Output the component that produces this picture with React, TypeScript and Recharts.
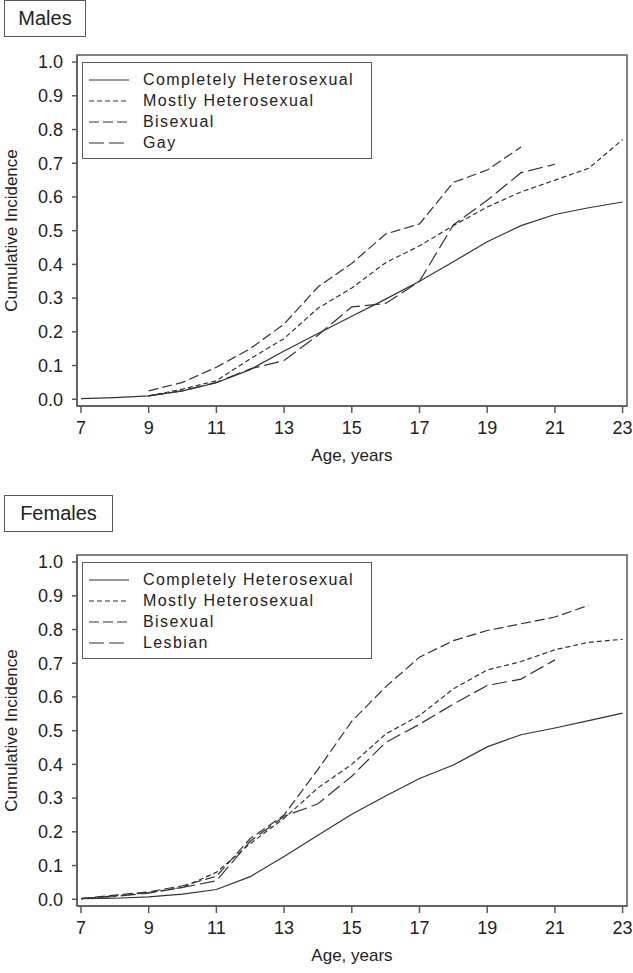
import { LineChart, Line, XAxis, YAxis, ReferenceArea, Legend } from "recharts";

const ages = [7, 8, 9, 10, 11, 12, 13, 14, 15, 16, 17, 18, 19, 20, 21, 22, 23];
const ageTicks = [7, 9, 11, 13, 15, 17, 19, 21, 23];
const incidenceTicks = [0, 0.1, 0.2, 0.3, 0.4, 0.5, 0.6, 0.7, 0.8, 0.9, 1.0];

const maleNames = ["Completely Heterosexual", "Mostly Heterosexual", "Bisexual", "Gay"];
const maleCompletely = [0.002, 0.005, 0.01, 0.025, 0.049, 0.088, 0.143, 0.195, 0.246, 0.297, 0.35, 0.408, 0.467, 0.515, 0.548, 0.568, 0.585];
const maleMostly = [null, null, 0.01, 0.03, 0.055, 0.12, 0.18, 0.27, 0.33, 0.405, 0.455, 0.515, 0.57, 0.615, 0.65, 0.685, 0.77];
const maleBisexual = [null, null, 0.025, 0.05, 0.095, 0.15, 0.223, 0.333, 0.403, 0.49, 0.52, 0.643, 0.68, 0.748, null, null, null];
const maleGay = [null, null, 0.01, 0.025, 0.05, 0.09, 0.115, 0.19, 0.274, 0.284, 0.35, 0.517, 0.59, 0.672, 0.697, null, null];

const femaleNames = ["Completely Heterosexual", "Mostly Heterosexual", "Bisexual", "Lesbian"];
const femaleCompletely = [0.002, 0.003, 0.007, 0.015, 0.029, 0.067, 0.127, 0.19, 0.252, 0.306, 0.358, 0.398, 0.452, 0.488, 0.508, 0.53, 0.552];
const femaleMostly = [0.002, 0.01, 0.02, 0.035, 0.08, 0.165, 0.24, 0.33, 0.4, 0.49, 0.545, 0.624, 0.68, 0.705, 0.74, 0.762, 0.771];
const femaleBisexual = [0.002, 0.012, 0.022, 0.04, 0.068, 0.18, 0.25, 0.385, 0.528, 0.63, 0.718, 0.767, 0.797, 0.817, 0.837, 0.872, null];
const femaleLesbian = [0.002, 0.008, 0.018, 0.035, 0.055, 0.172, 0.246, 0.283, 0.365, 0.465, 0.519, 0.579, 0.634, 0.653, 0.71, null, null];

const FONT = '"Liberation Sans", Arial, sans-serif';
const INK = "#333";
const FRAME = "#5a5a5a";
const dashes = [undefined, "5 3", "10 4", "15 5"];

type Val = number | null;

function buildRows(series: Val[][]) {
  return ages.map((age, i) => {
    const row: Record<string, Val> = { age };
    series.forEach((s, k) => {
      row["s" + k] = s[i];
    });
    return row;
  });
}

function LegendBox({ names }: { names: string[] }) {
  return (
    <div
      style={{
        width: 290,
        height: 97,
        boxSizing: "border-box",
        border: `1.5px solid ${FRAME}`,
        background: "#fff",
        paddingTop: 6,
        fontFamily: FONT,
        fontSize: 16,
        letterSpacing: 1.4,
        color: "#222",
      }}
    >
      {names.map((n, k) => (
        <div key={n} style={{ height: 21, display: "flex", alignItems: "center" }}>
          <svg width={60} height={6} style={{ flex: "none" }}>
            <line x1={6} x2={46} y1={3} y2={3} stroke={INK} strokeWidth={1.2} strokeDasharray={dashes[k]} />
          </svg>
          <span>{n}</span>
        </div>
      ))}
    </div>
  );
}

function Panel({ title, titleWidth, names, series, top }: { title: string; titleWidth: number; names: string[]; series: Val[][]; top: number }) {
  const rows = buildRows(series);
  const xDomain: [number, number] = [6.882, 23.13];
  const yDomain: [number, number] = [-0.02, 1.021];
  return (
    <div style={{ position: "absolute", left: 0, top, width: 633, height: 500 }}>
      <div
        style={{
          position: "absolute",
          left: 4,
          top: top === 0 ? 0 : -5,
          width: titleWidth,
          height: 37,
          boxSizing: "border-box",
          border: `1.5px solid ${FRAME}`,
          fontFamily: FONT,
          fontSize: 20,
          color: "#222",
          display: "flex",
          alignItems: "center",
          justifyContent: "center",
          zIndex: 2,
          background: "#fff",
        }}
      >
        {title}
      </div>
      <LineChart width={633} height={500} data={rows} margin={{ top: 55, right: 6, left: 0, bottom: 0 }}>
        <XAxis
          dataKey="age"
          type="number"
          domain={xDomain}
          ticks={ageTicks}
          allowDataOverflow
          height={94}
          tickSize={7}
          tickMargin={8}
          stroke={FRAME}
          strokeWidth={1.5}
          tick={{ fontSize: 18, fill: "#222", fontFamily: FONT }}
          label={{ value: "Age, years", position: "insideTop", offset: 43, style: { fontSize: 17, fill: "#222", fontFamily: FONT } }}
        />
        <YAxis
          type="number"
          domain={yDomain}
          ticks={incidenceTicks}
          allowDataOverflow
          width={77}
          tickSize={5}
          tickMargin={9}
          stroke={FRAME}
          strokeWidth={1.5}
          tickFormatter={(v: number) => v.toFixed(1)}
          tick={{ fontSize: 18, fill: "#222", fontFamily: FONT }}
          label={{ value: "Cumulative Incidence", angle: -90, position: "insideLeft", offset: 11, style: { textAnchor: "middle", fontSize: 17, fill: "#222", fontFamily: FONT } }}
        />
        <ReferenceArea x1={xDomain[0]} x2={xDomain[1]} y1={yDomain[0]} y2={yDomain[1]} fill="none" stroke={FRAME} strokeWidth={1.5} />
        {series.map((_, k) => (
          <Line
            key={k}
            type="linear"
            dataKey={"s" + k}
            name={names[k]}
            stroke={INK}
            strokeWidth={1.2}
            strokeDasharray={dashes[k]}
            dot={false}
            activeDot={false}
            isAnimationActive={false}
          />
        ))}
        <Legend
          layout="vertical"
          align="center"
          verticalAlign="middle"
          wrapperStyle={{ left: 82, top: 62, width: 290, height: 97 }}
          content={() => <LegendBox names={names} />}
        />
      </LineChart>
    </div>
  );
}

export default function App() {
  return (
    <div style={{ position: "absolute", left: 0, top: 0, width: 633, height: 973, background: "#fff" }}>
      <Panel title="Males" titleWidth={82} names={maleNames} series={[maleCompletely, maleMostly, maleBisexual, maleGay]} top={0} />
      <Panel title="Females" titleWidth={109} names={femaleNames} series={[femaleCompletely, femaleMostly, femaleBisexual, femaleLesbian]} top={500} />
    </div>
  );
}
